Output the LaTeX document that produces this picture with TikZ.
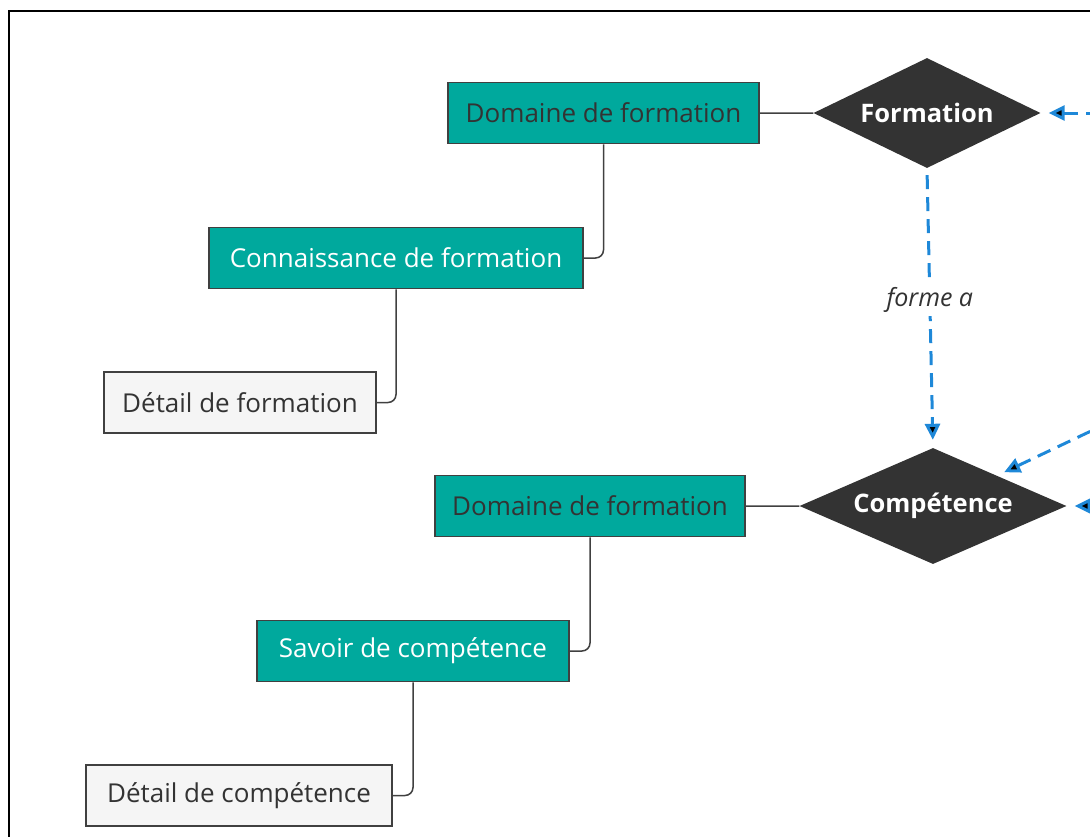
\documentclass[tikz,border=0pt]{standalone}
\usepackage{fontspec}
\setmainfont{Open Sans}
\usetikzlibrary{shapes.geometric,arrows.meta}

\definecolor{tealfill}{HTML}{00A99D}
\definecolor{darkfill}{HTML}{333333}
\definecolor{linegray}{HTML}{404040}
\definecolor{palefill}{HTML}{F5F5F5}
\definecolor{linkblue}{HTML}{1E88D8}

\begin{document}
\begin{tikzpicture}[x=1pt, y=-1pt,
  entitybox/.style = {shape=rectangle, draw=linegray, line width=1.5pt, minimum height=61pt,
                inner sep=0pt, font=\fontsize{26}{30}\selectfont},
  domainbox/.style = {entitybox, fill=tealfill, text=darkfill},
  knowledgebox/.style = {entitybox, fill=tealfill, text=white},
  detailbox/.style = {entitybox, fill=palefill, text=darkfill},
  relation/.style = {shape=diamond, fill=darkfill, text=white, inner sep=0pt, aspect=2.4,
                     font=\fontsize{25.5}{30}\selectfont\bfseries},
  tree/.style = {draw=linegray, line width=1.5pt, rounded corners=8pt},
  linkarrow/.style = {draw=linkblue, line width=3pt, dash pattern=on 14pt off 8pt,
                 -{Triangle[length=16pt,width=15pt]}, shorten >=8pt}]

\clip (0,0) rectangle (1090,836);
\draw [line width=2.5pt] (9,11) rectangle (1110,860);

\node (Formation) at (927,113) [relation, minimum width=227pt, minimum height=110pt] {Formation};

\node (Domaine formation) at (603.5,113) [domainbox, minimum width=311pt] {Domaine de formation};

\node (Connaissance) at (396,258) [knowledgebox, minimum width=374pt] {Connaissance de formation};

\node (Detail formation) at (240,402.5) [detailbox, minimum width=272pt] {Détail de formation};

\node (Competence) at (933,506) [relation, minimum width=267pt, minimum height=116pt] {Compétence};

\node (Domaine competence) at (590,506) [domainbox, minimum width=310pt] {Domaine de formation};

\node (Savoir) at (413,651) [knowledgebox, minimum width=312pt] {Savoir de compétence};

\node (Detail competence) at (239,795.5) [detailbox, minimum width=306pt] {Détail de compétence};

\coordinate (From formation) at (1100,113);
\coordinate (From competence a) at (1110,422);
\coordinate (From competence b) at (1100,506);

\path [tree] (Formation.west) -- (Domaine formation.east)
  (Domaine formation.south) |- (Connaissance.east)
  (Connaissance.south) |- (Detail formation.east)

  (Competence.west) -- (Domaine competence.east)
  (Domaine competence.south) |- (Savoir.east)
  (Savoir.south) |- (Detail competence.east);

\path [linkarrow] (Formation.south) edge [shorten <=7pt]
    node [pos=0.47, fill=white, text=darkfill, font=\fontsize{25}{30}\selectfont\itshape, inner sep=4pt] {forme a} (Competence.north)
  (From formation) edge (Formation.east)
  (From competence a) edge (Competence)
  (From competence b) edge (Competence.east);
\end{tikzpicture}
\end{document}
